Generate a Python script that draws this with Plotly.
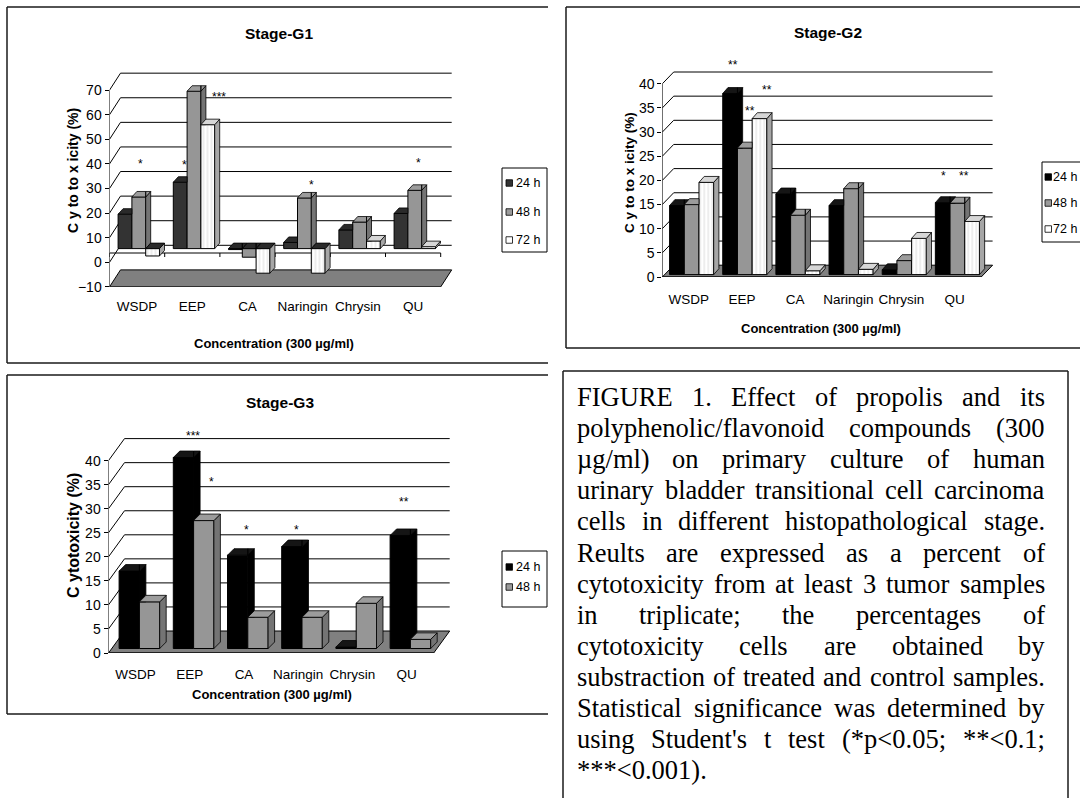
import plotly.graph_objects as go

# ---------------- data ----------------
categories = ["WSDP", "EEP", "CA", "Naringin", "Chrysin", "QU"]
series_names = ["24 h", "48 h", "72 h"]

g1_24h = [14.0, 27.0, -0.4, 2.5, 7.6, 14.3]
g1_48h = [21.0, 64.0, -3.5, 20.6, 10.8, 23.7]
g1_72h = [-3.0, 50.4, -10.0, -10.0, 3.1, 0.8]

g2_24h = [14.3, 37.5, 16.7, 14.3, 1.0, 14.9]
g2_48h = [14.5, 26.2, 12.3, 17.8, 2.9, 14.8]
g2_72h = [19.1, 32.3, 0.8, 1.1, 7.5, 11.0]

g3_24h = [16.1, 39.7, 19.4, 21.2, 0.3, 23.5]
g3_48h = [9.7, 26.6, 6.5, 6.5, 9.4, 1.9]

g1_yticks = [-10, 0, 10, 20, 30, 40, 50, 60, 70]
g2_yticks = [0, 5, 10, 15, 20, 25, 30, 35, 40]
g3_yticks = [0, 5, 10, 15, 20, 25, 30, 35, 40]

g1_star_text = ["***", "***", "*", "*", "*", "*"]
g1_star_x = [1.553, 1.978, 0.562, 1.366, 3.661, 5.596]
g1_star_y = [85.8, 68.3, 41.0, 40.7, 32.5, 41.5]

g2_star_text = ["**", "**", "**", "*", "**"]
g2_star_x = [1.323, 1.976, 1.650, 5.298, 5.669]
g2_star_y = [44.5, 39.4, 34.9, 21.5, 21.5]

g3_star_text = ["***", "*", "*", "*", "**"]
g3_star_x = [1.565, 1.904, 2.550, 3.472, 5.452]
g3_star_y = [45.7, 36.2, 26.3, 26.3, 32.0]

caption_lines = [
    "FIGURE 1. Effect of propolis and its",
    "polyphenolic/flavonoid compounds (300",
    "µg/ml) on primary culture of human",
    "urinary bladder transitional cell carcinoma",
    "cells in different histopathological stage.",
    "Reults are expressed as a percent of",
    "cytotoxicity from at least 3 tumor samples",
    "in triplicate; the percentages of",
    "cytotoxicity cells are obtained by",
    "substraction of treated and control samples.",
    "Statistical significance was determined by",
    "using Student's t test (*p<0.05; **<0.1;",
    "***<0.001).",
]

# ---------------- helpers ----------------
W, H = 1080, 798


def fx(x):
    return x / W


def fy(y):
    return 1 - y / H


SANS = "Liberation Sans, Arial, sans-serif"
SERIF = "Liberation Serif, Times New Roman, serif"


def area(p):
    s = 0.0
    for i in range(len(p)):
        x1, y1 = p[i - 1]
        x2, y2 = p[i]
        s += x1 * y2 - x2 * y1
    return s / 2


def clip_half(poly, coord, val, keep_ge):
    out = []
    if not poly:
        return out

    def inside(p):
        return p[coord] >= val - 1e-12 if keep_ge else p[coord] <= val + 1e-12

    for i in range(len(poly)):
        cur, prev = poly[i], poly[i - 1]
        ci, pi_ = inside(cur), inside(prev)
        if ci != pi_:
            t = (val - prev[coord]) / (cur[coord] - prev[coord])
            out.append((prev[0] + t * (cur[0] - prev[0]), prev[1] + t * (cur[1] - prev[1])))
        if ci:
            out.append(cur)
    return out


def minus_rect(poly, x0, y0, y1):
    pieces = [clip_half(poly, 0, x0, False)]
    right = clip_half(poly, 0, x0, True)
    pieces.append(clip_half(right, 1, y1, True))
    pieces.append(clip_half(right, 1, y0, False))
    return [p for p in pieces if len(p) >= 3 and abs(area(p)) > 1e-7]


def poly_trace(polys, color, xa, ya):
    xs, ys = [], []
    for p in polys:
        for a, b in p:
            xs.append(a)
            ys.append(b)
        xs.append(p[0][0])
        ys.append(p[0][1])
        xs.append(None)
        ys.append(None)
    return go.Scatter(x=xs, y=ys, mode="lines", fill="toself", fillcolor=color,
                      line=dict(color="black", width=0.8), xaxis=xa, yaxis=ya,
                      hoverinfo="skip", showlegend=False)


# series styles
P48 = dict(shape=".", fgcolor="#4a4a4a", bgcolor="#d2d2d2", size=2, solidity=0.5)
P72 = dict(shape="|", fgcolor="#dcdcdc", bgcolor="#ffffff", size=4, solidity=0.25)
S24_G1 = dict(front="#333333", pattern=None, top="#2a2a2a", side="#161616", leg="#333333")
S24_BK = dict(front="#000000", pattern=None, top="#151515", side="#000000", leg="#000000")
S48 = dict(front="#c4c4c4", pattern=P48, top="#9c9c9c", side="#747474", leg="#9a9a9a")
S72 = dict(front="#ffffff", pattern=P72, top="#d6d6d6", side="#a6a6a6", leg="#ffffff")
NEG_TOP = "#2a2a2a"

panels = [
    dict(n=1, series=[g1_24h, g1_48h, g1_72h], yticks=g1_yticks,
         stars=(g1_star_text, g1_star_x, g1_star_y), title="Stage-G1",
         ytitle="C y to to x icity (%)",
         x0=109.5, cat=55.2, y0=262.3, ppu=2.459, ymin=-10, top_px=60,
         wdx=11.0, wdy=17.0, goff=8.6, bw=13.8, bup=13.7, bdx=5.0, bdy=5.5, catline_up=9.3,
         title_xy=(279, 34), xt_xy=(274, 343), yt_xy=(73, 171), yt_fs=14,
         leg_box=(502, 168, 547, 252), leg_y=[183, 212, 240], leg_sq=506, leg_tx=516,
         styles=[S24_G1, S48, S72], standoff=10),
    dict(n=2, series=[g2_24h, g2_48h, g2_72h], yticks=g2_yticks,
         stars=(g2_star_text, g2_star_x, g2_star_y), title="Stage-G2",
         ytitle="C y to to x icity (%)",
         x0=662.3, cat=53.15, y0=277.0, ppu=4.83, ymin=0, top_px=58,
         wdx=11.4, wdy=11.8, goff=7.3, bw=14.7, bup=2.4, bdx=5.2, bdy=5.9, catline_up=0,
         title_xy=(828, 33), xt_xy=(821, 329), yt_xy=(630, 173), yt_fs=13.5,
         leg_box=(1042, 162, 1092, 242), leg_y=[177, 203, 229], leg_sq=1045, leg_tx=1053,
         styles=[S24_BK, S48, S72], standoff=12),
    dict(n=3, series=[g3_24h, g3_48h], yticks=g3_yticks,
         stars=(g3_star_text, g3_star_x, g3_star_y), title="Stage-G3",
         ytitle="C ytotoxicity (%)",
         x0=108.5, cat=54.2, y0=653.0, ppu=4.81, ymin=0, top_px=428,
         wdx=16.0, wdy=22.0, goff=10.6, bw=20.3, bup=4.5, bdx=6.5, bdy=6.5, catline_up=0,
         title_xy=(280, 402), xt_xy=(272, 694), yt_xy=(73, 536), yt_fs=16,
         leg_box=(502, 551, 547, 607), leg_y=[567, 587], leg_sq=506, leg_tx=516,
         styles=[S24_BK, S48], standoff=11),
]

fig = go.Figure()
layout_axes = {}
shapes = []
annotations = []

for P in panels:
    n = P["n"]
    xa = "x" if n == 1 else "x%d" % n
    ya = "y" if n == 1 else "y%d" % n
    cat, ppu, ymin = P["cat"], P["ppu"], P["ymin"]
    ncat = len(categories)
    wpx = ncat * cat + P["wdx"] + 12
    ybot_px = P["y0"] - ymin * ppu
    ytop_val = ymin + (ybot_px - P["top_px"]) / ppu

    layout_axes["xaxis" + ("" if n == 1 else str(n))] = dict(
        domain=[fx(P["x0"]), fx(P["x0"] + wpx)], range=[0, wpx / cat], anchor=ya,
        tickvals=[i + 0.5 for i in range(ncat)], ticktext=categories, ticks="", tickangle=0,
        showline=False, showgrid=False, zeroline=False, fixedrange=True, automargin=False,
        tickfont=dict(family=SANS, size=13.5, color="black"), ticklabelstandoff=int(P["standoff"]))
    layout_axes["yaxis" + ("" if n == 1 else str(n))] = dict(
        domain=[fy(ybot_px), fy(P["top_px"])], range=[ymin, ytop_val], anchor=xa,
        tickvals=P["yticks"], ticks="outside", ticklen=4, tickwidth=1, tickcolor="black",
        showline=False, showgrid=False, zeroline=False, fixedrange=True, automargin=False,
        tickfont=dict(family=SANS, size=14, color="black"))

    wdx_d = P["wdx"] / cat
    wdy_d = P["wdy"] / ppu
    # floor
    shapes.append(dict(type="path", xref=xa, yref=ya, layer="below",
                       path="M 0,%f L %f,%f L %f,%f L %f,%f Z" % (
                           ymin, ncat, ymin, ncat + wdx_d, ymin + wdy_d, wdx_d, ymin + wdy_d),
                       fillcolor="#808080", line=dict(color="black", width=1)))
    # back wall gridlines + left wall connectors
    for v in P["yticks"]:
        if v <= ymin:
            continue
        shapes.append(dict(type="line", xref=xa, yref=ya, layer="below",
                           x0=wdx_d, x1=ncat + wdx_d, y0=v + wdy_d, y1=v + wdy_d,
                           line=dict(color="black", width=1)))
        shapes.append(dict(type="line", xref=xa, yref=ya, layer="below",
                           x0=0, x1=wdx_d, y0=v, y1=v + wdy_d,
                           line=dict(color="black", width=1)))
    # category axis line with tick marks
    cl = (0 if ymin < 0 else ymin) + P["catline_up"] / ppu
    shapes.append(dict(type="line", xref=xa, yref=ya, layer="below",
                       x0=0, x1=ncat, y0=cl, y1=cl, line=dict(color="black", width=1)))
    for i in range(ncat + 1):
        shapes.append(dict(type="line", xref=xa, yref=ya, layer="below",
                           x0=i, x1=i, y0=cl, y1=cl - 4 / ppu, line=dict(color="black", width=1)))
    # front value axis line
    shapes.append(dict(type="line", xref=xa, yref=ya, layer="above",
                       x0=0, x1=0, y0=ymin, y1=max(P["yticks"]), line=dict(color="black", width=1)))

    # bars + 3D faces
    series = P["series"]
    nser = len(series)
    bw_d = P["bw"] / cat
    base_d = P["bup"] / ppu
    bdx_d = P["bdx"] / cat
    bdy_d = P["bdy"] / ppu
    for k, vals in enumerate(series):
        st = P["styles"][k]
        xs = [i + (P["goff"] + (k + 0.5) * P["bw"]) / cat for i in range(ncat)]
        marker = dict(color=st["front"], line=dict(color="black", width=1))
        if st["pattern"] is not None:
            marker["pattern"] = dict(st["pattern"], fillmode="replace")
        fig.add_trace(go.Bar(x=xs, y=vals, base=[base_d] * ncat, width=bw_d, marker=marker,
                             xaxis=xa, yaxis=ya, hoverinfo="skip", showlegend=False,
                             name=series_names[k]))
        tops, negtops, sides = [], [], []
        for i in range(ncat):
            v = vals[i]
            a = i + (P["goff"] + k * P["bw"]) / cat
            b0 = base_d
            t = b0 + v
            ytf = t if v >= 0 else b0
            top = [(a, ytf), (a + bw_d, ytf), (a + bw_d + bdx_d, ytf + bdy_d), (a + bdx_d, ytf + bdy_d)]
            lo, hi = min(b0, t), max(b0, t)
            side = [(a + bw_d, lo), (a + bw_d, hi), (a + bw_d + bdx_d, hi + bdy_d), (a + bw_d + bdx_d, lo + bdy_d)]
            if k + 1 < nser:
                vn = series[k + 1][i]
                rb, rt = min(b0, b0 + vn), max(b0, b0 + vn)
                top_p = minus_rect(top, a + bw_d, rb, rt)
                side_p = minus_rect(side, a + bw_d, rb, rt)
            else:
                top_p, side_p = [top], [side]
            if abs(hi - lo) > 1e-9:
                sides.extend(side_p)
            (tops if v >= 0 else negtops).extend(top_p)
        if sides:
            fig.add_trace(poly_trace(sides, st["side"], xa, ya))
        if tops:
            fig.add_trace(poly_trace(tops, st["top"], xa, ya))
        if negtops:
            fig.add_trace(poly_trace(negtops, NEG_TOP, xa, ya))

    # significance stars
    stx, sx, sy = P["stars"]
    for t_, x_, y_ in zip(stx, sx, sy):
        annotations.append(dict(xref=xa, yref=ya, x=x_, y=y_, text=t_, showarrow=False,
                                xanchor="center", yanchor="middle",
                                font=dict(family=SANS, size=12, color="black"), yshift=-3))

    # titles
    tx, ty = P["title_xy"]
    annotations.append(dict(xref="paper", yref="paper", x=fx(tx), y=fy(ty), text="<b>%s</b>" % P["title"],
                            xanchor="center", yanchor="middle",
                            showarrow=False, font=dict(family=SANS, size=15.5, color="black")))
    tx, ty = P["xt_xy"]
    annotations.append(dict(xref="paper", yref="paper", x=fx(tx), y=fy(ty),
                            xanchor="center", yanchor="middle",
                            text="<b>Concentration (300 µg/ml)</b>", showarrow=False,
                            font=dict(family=SANS, size=13, color="black")))
    tx, ty = P["yt_xy"]
    annotations.append(dict(xref="paper", yref="paper", x=fx(tx), y=fy(ty),
                            xanchor="center", yanchor="middle",
                            text="<b>%s</b>" % P["ytitle"], showarrow=False, textangle=-90,
                            font=dict(family=SANS, size=P["yt_fs"], color="black")))

    # legend box
    lx0, ly0, lx1, ly1 = P["leg_box"]
    shapes.append(dict(type="rect", xref="paper", yref="paper", x0=fx(lx0), x1=fx(lx1),
                       y0=fy(ly0), y1=fy(ly1), line=dict(color="black", width=1),
                       fillcolor="rgba(0,0,0,0)"))
    for k, yy in enumerate(P["leg_y"]):
        st = P["styles"][k]
        sq = 6.5
        shapes.append(dict(type="rect", xref="paper", yref="paper",
                           x0=fx(P["leg_sq"]), x1=fx(P["leg_sq"] + sq),
                           y0=fy(yy - sq / 2), y1=fy(yy + sq / 2),
                           line=dict(color="black", width=0.8), fillcolor=st["leg"]))
        annotations.append(dict(xref="paper", yref="paper", x=fx(P["leg_tx"]), y=fy(yy),
                                xanchor="left", yanchor="middle", text=series_names[k], showarrow=False,
                                borderpad=0, borderwidth=0,
                                font=dict(family=SANS, size=12.5, color="black")))


# panel frames (open on the right like the reference)
def hline(x0, x1, y):
    shapes.append(dict(type="line", xref="paper", yref="paper", x0=fx(x0), x1=fx(x1),
                       y0=fy(y), y1=fy(y), line=dict(color="#1a1a1a", width=1.5)))


def vline(x, y0, y1):
    shapes.append(dict(type="line", xref="paper", yref="paper", x0=fx(x), x1=fx(x),
                       y0=fy(y0), y1=fy(y1), line=dict(color="#1a1a1a", width=1.5)))


# G1
hline(7, 548, 7); hline(7, 548, 363); vline(7, 7, 363)
# G2
hline(566, 1082, 7); hline(566, 1082, 348); vline(566, 7, 348)
# G3
hline(7, 548, 375); hline(7, 548, 714); vline(7, 375, 714)
# caption box
hline(563, 1068, 371); vline(563, 371, 800); vline(1068, 371, 800)

# caption text (justified word by word, Times metrics)
TW = {" ": 250, "a": 444, "b": 500, "c": 444, "d": 500, "e": 444, "f": 333, "g": 500, "h": 500,
      "i": 278, "j": 278, "k": 500, "l": 278, "m": 778, "n": 500, "o": 500, "p": 500, "q": 500,
      "r": 333, "s": 389, "t": 278, "u": 500, "v": 500, "w": 722, "x": 500, "y": 500, "z": 444,
      "A": 722, "B": 667, "C": 667, "D": 722, "E": 611, "F": 556, "G": 722, "H": 722, "I": 333,
      "R": 667, "S": 556, "T": 611, "U": 722, ".": 250, ",": 250, ";": 278, "(": 333, ")": 333,
      "/": 278, "*": 500, "<": 564, "'": 180, "-": 333, "µ": 500}
CAP_FS = 26.5
CAP_L, CAP_R = 577, 1045
CAP_Y0, CAP_DY = 397, 31.1


def tw(s):
    return sum(TW.get(c, 500) for c in s) * CAP_FS / 1000


def esc(s):
    return s.replace("<", "&lt;")


for li, line in enumerate(caption_lines):
    words = line.split(" ")
    yy = fy(CAP_Y0 + li * CAP_DY)
    widths = [tw(w) for w in words]
    last = li == len(caption_lines) - 1 or len(words) == 1
    gap = tw(" ") if last else (CAP_R - CAP_L - sum(widths)) / (len(words) - 1)
    x = CAP_L
    for j, w in enumerate(words):
        right = (not last) and j == len(words) - 1
        annotations.append(dict(xref="paper", yref="paper", x=fx(CAP_R if right else x), y=yy,
                                xanchor="right" if right else "left", yanchor="middle",
                                text=esc(w), showarrow=False, borderpad=0, borderwidth=0,
                                font=dict(family=SERIF, size=CAP_FS, color="black")))
        x += widths[j] + gap

fig.update_layout(
    width=W, height=H, autosize=False,
    margin=dict(l=0, r=0, t=0, b=0),
    paper_bgcolor="white", plot_bgcolor="white",
    barmode="overlay", showlegend=False,
    shapes=shapes, annotations=annotations,
    **layout_axes,
)

fig.write_html("out.html", config={"displayModeBar": False, "staticPlot": True},
               post_script="document.body.style.margin='0px';document.body.style.overflow='hidden';")
